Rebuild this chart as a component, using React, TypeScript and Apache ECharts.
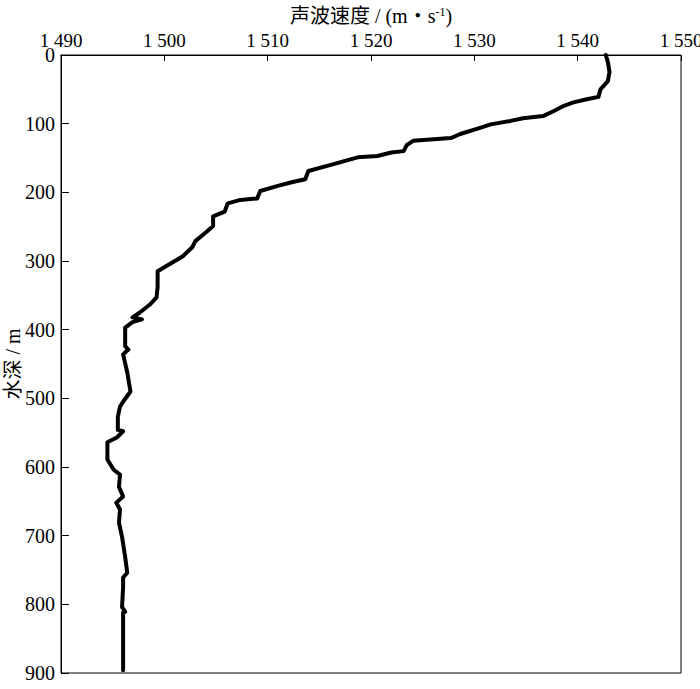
import React, { useEffect, useRef } from "react";
import * as echarts from "echarts";

const depths = [0, 10, 25, 38, 50, 61, 64, 69, 74, 82, 89, 92, 96, 101, 106, 115, 121, 125, 131, 140, 142, 147, 149, 159, 169, 181, 185, 191, 198, 209, 211, 216, 228, 235, 249, 257, 271, 280, 293, 315, 338, 353, 363, 375, 382, 385, 389, 397, 424, 429, 436, 462, 490, 505, 512, 527, 546, 548, 557, 564, 589, 604, 611, 629, 643, 652, 662, 681, 702, 731, 754, 761, 775, 804, 811, 812, 896];
const speeds = [1542.72, 1542.92, 1543.08, 1542.92, 1542.21, 1542.01, 1541.0, 1539.58, 1538.67, 1537.65, 1536.64, 1534.72, 1533.5, 1531.58, 1530.56, 1528.64, 1527.72, 1524.08, 1523.47, 1523.16, 1521.95, 1520.63, 1518.71, 1516.38, 1513.94, 1513.64, 1512.42, 1510.9, 1509.28, 1508.98, 1507.36, 1506.14, 1505.84, 1504.72, 1504.72, 1504.12, 1503.0, 1502.7, 1501.79, 1499.35, 1499.35, 1499.25, 1498.64, 1497.63, 1496.92, 1497.83, 1496.92, 1496.21, 1496.21, 1496.52, 1496.01, 1496.41, 1496.72, 1496.01, 1495.71, 1495.5, 1495.5, 1496.01, 1495.4, 1494.49, 1494.49, 1495.1, 1495.71, 1495.61, 1496.01, 1495.35, 1495.71, 1495.61, 1495.91, 1496.21, 1496.41, 1496.01, 1496.01, 1495.91, 1496.21, 1496.01, 1496.01];

const xTitle = "声波速度 / (m・s";
const yTitle = "水深 / m";

const FONT = "'Times New Roman', 'Liberation Serif', 'Noto Sans CJK SC', serif";

export default function App() {
  const ref = useRef<HTMLDivElement>(null);
  useEffect(() => {
    if (!ref.current) return;
    const chart = echarts.init(ref.current, null, { renderer: "svg" });
    const data = depths.map((d, i) => [speeds[i], d]);
    chart.setOption({
      animation: false,
      backgroundColor: "#fff",
      textStyle: { fontFamily: FONT, color: "#000" },
      grid: {
        left: 61,
        right: 19,
        top: 55,
        bottom: 16,
        show: true,
        borderColor: "#000",
        borderWidth: 1,
        outerBoundsMode: "none",
        containLabel: false,
      },
      graphic: [
        {
          type: "text",
          x: 13,
          y: 364,
          rotation: Math.PI / 2,
          style: {
            text: yTitle,
            fontFamily: FONT,
            fontSize: 20,
            fill: "#000",
            align: "center",
            verticalAlign: "middle",
          },
        },
      ],
      xAxis: {
        type: "value",
        position: "top",
        min: 1490,
        max: 1550,
        interval: 10,
        name: xTitle + "{sup|-1}{n|)}",
        nameLocation: "middle",
        nameGap: 29,
        nameTextStyle: {
          fontFamily: FONT,
          fontSize: 20,
          color: "#000",
          rich: {
            sup: { fontSize: 12, verticalAlign: "top", padding: [0, 0, 8, 0], fontFamily: FONT, color: "#000" },
            n: { fontSize: 20, fontFamily: FONT, color: "#000" },
          },
        },
        axisLine: { show: true, lineStyle: { color: "#000", width: 1 } },
        axisTick: { show: true, inside: true, length: 6, lineStyle: { color: "#000" } },
        axisLabel: {
          fontSize: 19,
          color: "#000",
          fontFamily: FONT,
          margin: 5,
          formatter: (v: number) => String(v).replace(/^(\d)(\d{3})$/, "$1 $2"),
        },
        splitLine: { show: false },
      },
      yAxis: {
        type: "value",
        inverse: true,
        min: 0,
        max: 900,
        interval: 100,
        axisLine: { show: true, lineStyle: { color: "#000", width: 1 } },
        axisTick: { show: true, inside: true, length: 8, lineStyle: { color: "#000" } },
        axisLabel: { fontSize: 20, color: "#000", fontFamily: FONT, margin: 6 },
        splitLine: { show: false },
      },
      series: [
        {
          type: "line",
          data,
          showSymbol: false,
          symbol: "none",
          lineStyle: { color: "#000", width: 4, join: "round", cap: "round" },
        },
      ],
    });
    return () => chart.dispose();
  }, []);
  return <div ref={ref} style={{ width: 700, height: 689, position: "absolute", left: 0, top: 0 }} />;
}
